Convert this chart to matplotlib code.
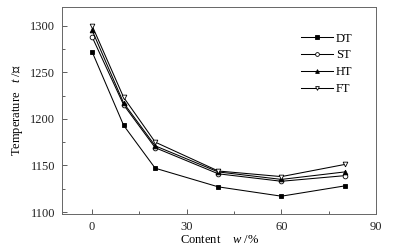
import matplotlib
matplotlib.use('Agg')
import matplotlib.pyplot as plt
from matplotlib.ticker import MultipleLocator

plt.rcParams['font.family'] = ['Liberation Serif', 'DejaVu Serif']
plt.rcParams['mathtext.fontset'] = 'custom'
plt.rcParams['mathtext.it'] = 'Liberation Serif:italic'
plt.rcParams['mathtext.rm'] = 'Liberation Serif'

content = [0, 10, 20, 40, 60, 80]
dt = [1272, 1193, 1147, 1127, 1117, 1128]
st = [1288, 1215, 1169, 1141, 1133, 1139]
ht = [1295, 1217, 1171, 1143, 1135, 1143]
ft = [1300, 1223, 1175, 1144, 1138, 1151]

series = [
    ('DT', dt, 's', 'black'),
    ('ST', st, 'o', 'white'),
    ('HT', ht, '^', 'black'),
    ('FT', ft, 'v', 'white'),
]

fig = plt.figure(figsize=(3.93, 2.49), dpi=100, facecolor='white')
ax = fig.add_axes([0.158, 0.141, 0.799, 0.831])

for name, vals, mk, fc in series:
    ax.plot(content, vals, color='black', linewidth=0.75, marker=mk,
            markersize=3.4, markerfacecolor=fc, markeredgecolor='black',
            markeredgewidth=0.6, label=name)

ax.set_xlim(-9.5, 90)
ax.set_ylim(1098, 1320)
ax.xaxis.set_major_locator(MultipleLocator(30))
ax.xaxis.set_minor_locator(MultipleLocator(15))
ax.yaxis.set_major_locator(MultipleLocator(50))
ax.yaxis.set_minor_locator(MultipleLocator(25))
ax.tick_params(which='both', direction='in', top=False, right=False,
               labelsize=9, color='#444444', labelcolor='#222222')
ax.tick_params(which='major', length=3.5, width=0.6)
ax.tick_params(which='minor', length=2, width=0.6)
ax.tick_params(axis='y', pad=5)
ax.tick_params(axis='x', pad=5)
for sp in ax.spines.values():
    sp.set_linewidth(0.7)
    sp.set_color('#666666')

ax.set_xlabel('Content    $w$ /%', fontsize=9, labelpad=1)
ax.set_ylabel('Temperature   $t$ /\u2103', fontsize=9, labelpad=4)

ax.legend(loc='upper right', bbox_to_anchor=(0.94, 0.90), frameon=False,
          fontsize=9, handlelength=2.6, handletextpad=0.2,
          labelspacing=0.38, borderaxespad=0, markerscale=0.8)

plt.savefig('out.png', dpi=100, facecolor='white')
plt.close()
